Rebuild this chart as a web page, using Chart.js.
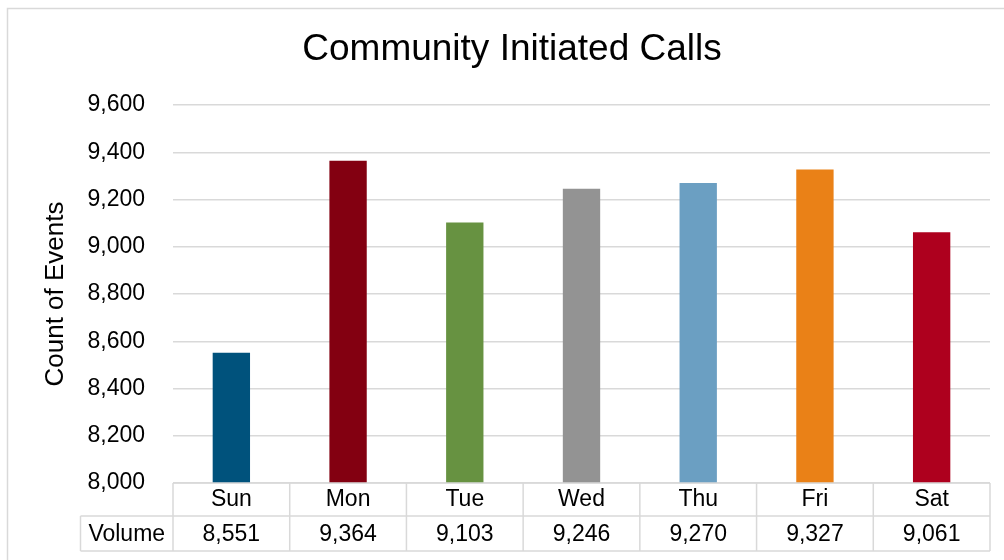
<!DOCTYPE html>
<html>
<head>
<meta charset="utf-8">
<script src="https://cdn.jsdelivr.net/npm/chart.js@4"></script>
<style>
  html, body { margin: 0; padding: 0; background: #fff; }
  #wrap { width: 1004px; height: 560px; position: relative; }
</style>
</head>
<body>
<div id="wrap"><canvas id="c" width="1004" height="560"></canvas></div>
<script>
const chartTitle = 'Community Initiated Calls';
const yAxisTitle = 'Count of Events';
const tableRowLabel = 'Volume';
const days = ['Sun', 'Mon', 'Tue', 'Wed', 'Thu', 'Fri', 'Sat'];
const volumes = [8551, 9364, 9103, 9246, 9270, 9327, 9061];
const barColors = ['#00527C', '#830011', '#679241', '#939393', '#6B9FC2', '#EA8117', '#AE001E'];
const yMin = 8000, yMax = 9600, yStep = 200;

const FONT = '"Liberation Sans", Arial, sans-serif';
const GRID = '#D9D9D9';
const fmt = v => Number(v).toLocaleString('en-US');

const frameAndTable = {
  id: 'frameAndTable',
  beforeDraw(chart) {
    const ctx = chart.ctx;
    ctx.save();
    ctx.strokeStyle = GRID;
    ctx.lineWidth = 1.5;
    ctx.strokeRect(7.5, 8.5, chart.width + 20, chart.height + 20);
    ctx.restore();
  },
  afterDraw(chart) {
    const {ctx, chartArea, scales: {x}} = chart;
    const n = days.length;
    const half = (x.getPixelForValue(1) - x.getPixelForValue(0)) / 2;
    const left = x.getPixelForValue(0) - half;
    const right = x.getPixelForValue(n - 1) + half;
    const top = chartArea.bottom;
    const mid = top + 33;
    const bot = top + 68;
    const labelLeft = 80.5;
    ctx.save();
    ctx.strokeStyle = GRID;
    ctx.lineWidth = 1.5;
    ctx.beginPath();
    ctx.moveTo(left, top); ctx.lineTo(right, top);
    ctx.moveTo(labelLeft, mid); ctx.lineTo(right, mid);
    ctx.moveTo(labelLeft, bot); ctx.lineTo(right, bot);
    ctx.moveTo(labelLeft, mid); ctx.lineTo(labelLeft, bot);
    for (let i = 0; i <= n; i++) {
      const px = left + i * 2 * half;
      ctx.moveTo(px, top); ctx.lineTo(px, bot);
    }
    ctx.stroke();
    ctx.fillStyle = '#000';
    ctx.font = '23px ' + FONT;
    ctx.textAlign = 'center';
    ctx.textBaseline = 'middle';
    const ty = (mid + bot) / 2 + 1;
    ctx.fillText(tableRowLabel, (labelLeft + left) / 2, ty);
    volumes.forEach((v, i) => ctx.fillText(fmt(v), x.getPixelForValue(i), ty));
    ctx.restore();
  }
};

new Chart(document.getElementById('c'), {
  type: 'bar',
  data: {
    labels: days,
    datasets: [{
      label: tableRowLabel,
      data: volumes,
      backgroundColor: barColors,
      borderWidth: 0,
      categoryPercentage: 1,
      barPercentage: 0.32
    }]
  },
  options: {
    responsive: false,
    animation: false,
    devicePixelRatio: 1,
    layout: { padding: { left: 34, right: 14, top: 0, bottom: 0 } },
    plugins: {
      legend: { display: false },
      tooltip: { enabled: false },
      title: {
        display: true,
        text: chartTitle,
        color: '#000',
        font: { family: FONT, size: 37, weight: 'normal', lineHeight: 1.2 },
        padding: { top: 28, bottom: 32.6 }
      }
    },
    scales: {
      x: {
        grid: { display: false, drawTicks: false },
        border: { display: false },
        ticks: { color: '#000', font: { family: FONT, size: 23 }, padding: 3 },
        afterFit(s) { s.height = 77; }
      },
      y: {
        min: yMin, max: yMax,
        grid: { color: GRID, lineWidth: 1.5, drawTicks: false },
        border: { display: false },
        ticks: {
          stepSize: yStep, color: '#000', padding: 28,
          font: { family: FONT, size: 23 },
          callback: v => fmt(v)
        },
        title: {
          display: true, text: yAxisTitle, color: '#000',
          font: { family: FONT, size: 26 }, padding: { top: 6, bottom: 0 }
        },
        afterFit(s) { s.width = 139; }
      }
    }
  },
  plugins: [frameAndTable]
});
</script>
</body>
</html>
